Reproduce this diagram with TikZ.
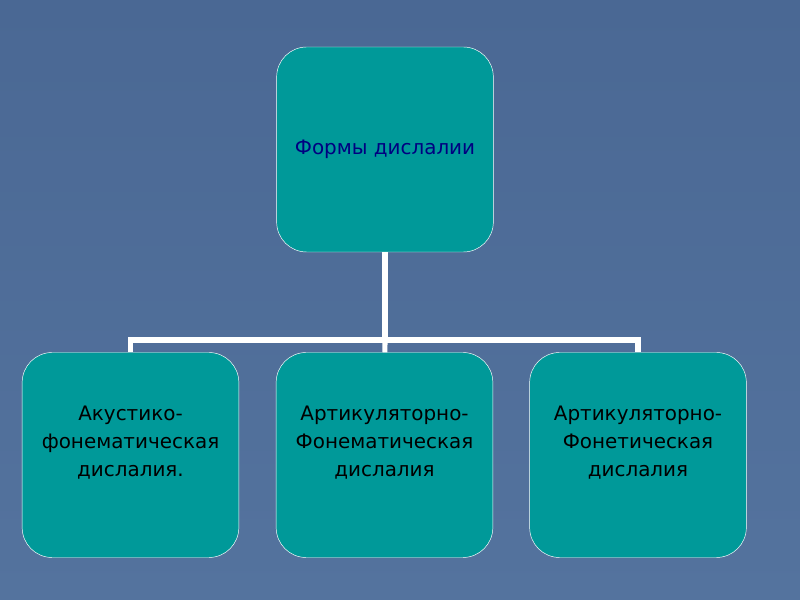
\documentclass[tikz,border=0pt]{standalone}
\usepackage{fontspec}
\setmainfont{DejaVu Sans}
\definecolor{slidebg}{RGB}{84,115,158}
\definecolor{slidebgtop}{RGB}{74,104,148}
\definecolor{boxfill}{RGB}{0,153,153}
\definecolor{titletext}{RGB}{0,0,128}
\tikzset{
  formbox/.style={draw=white, fill=boxfill, rounded corners=0.9cm,
    minimum width=6.5cm, minimum height=6.15cm, align=center,
    font=\fontsize{17}{23.5}\selectfont},
  link/.style={draw=white, line width=4.3pt}
}
\begin{document}
\begin{tikzpicture}[x=0.03cm,y=-0.03cm]
    \shade[top color=slidebgtop, bottom color=slidebg] (0,0) rectangle (800,600);

    \node[formbox, text=titletext] (forms) at (385,149.5) {Формы дислалии};
    \node[formbox] (acoustic) at (130.5,455) {Акустико-\\фонематическая\\дислалия.\\\mbox{}};
    \node[formbox] (phonemic) at (384.5,455) {Артикуляторно-\\Фонематическая\\дислалия\\\mbox{}};
    \node[formbox] (phonetic) at (638,455) {Артикуляторно-\\Фонетическая\\дислалия\\\mbox{}};

    \coordinate (bus) at (385,340);
    \draw[link] (forms) -- (bus);
    \draw[link] (acoustic) |- (bus) -| (phonetic);
    \draw[link] (bus) -- (phonemic);
\end{tikzpicture}
\end{document}
